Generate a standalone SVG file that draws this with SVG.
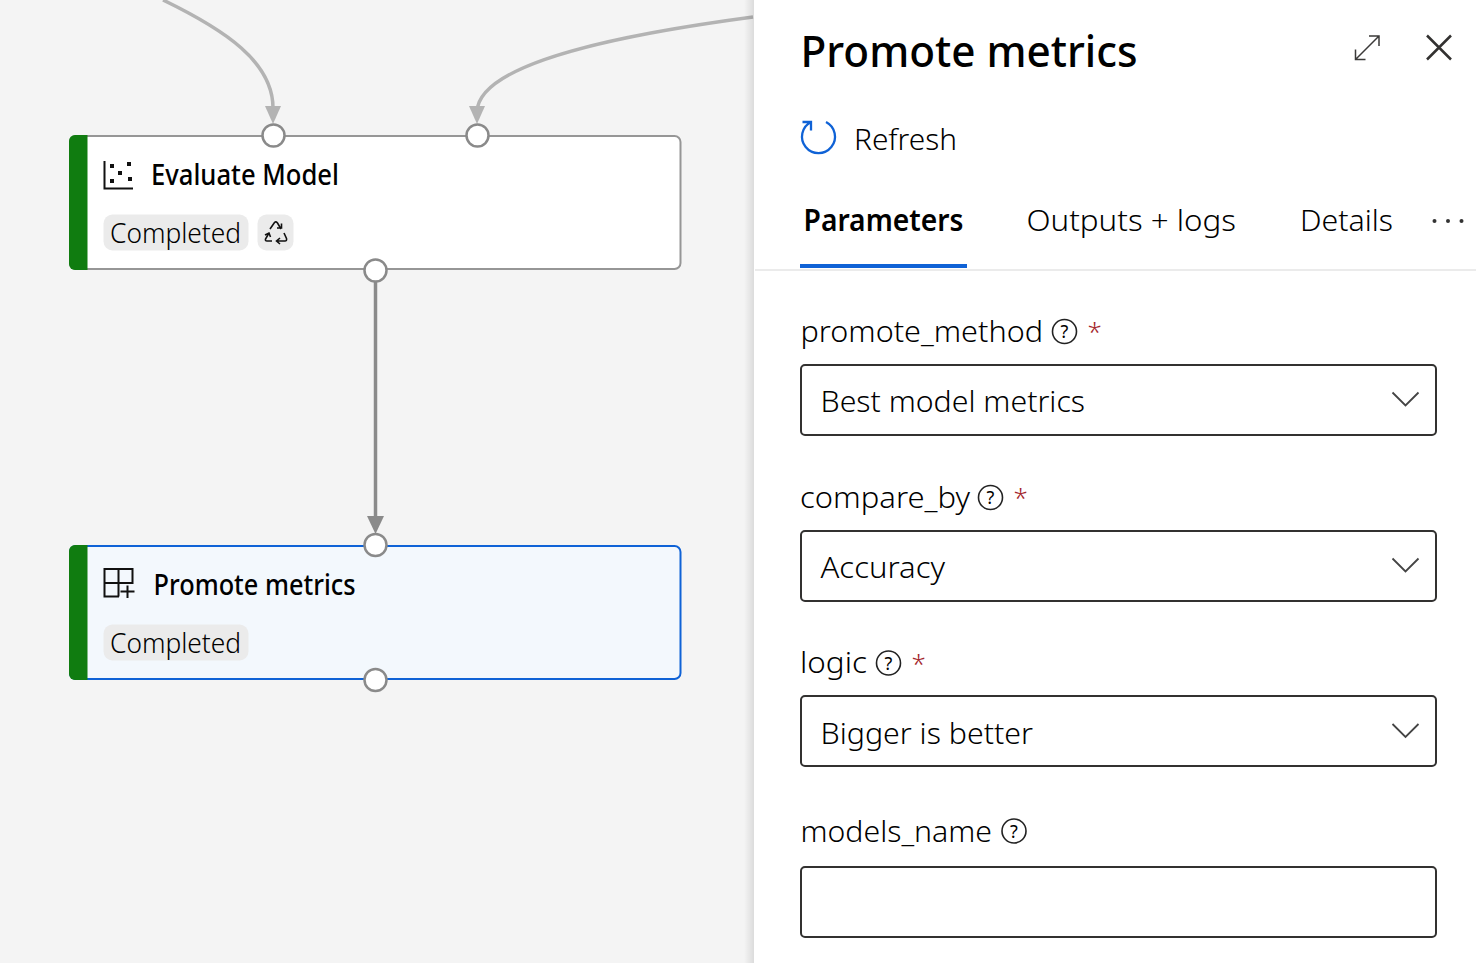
<svg xmlns="http://www.w3.org/2000/svg" width="1476" height="963" viewBox="0 0 1476 963">
<defs>
<linearGradient id="shadow" x1="0" x2="1" y1="0" y2="0"><stop offset="0" stop-color="#000" stop-opacity="0"/><stop offset="1" stop-color="#000" stop-opacity="0.1"/></linearGradient>
</defs>
<style>
text{font-family:"Noto Sans","Open Sans","Liberation Sans",sans-serif;fill:#000}
.t{font-size:30px;font-weight:300}
.h{font-size:30px;font-weight:600}
.n{font-size:28px;font-weight:500}
.s{font-size:28px;font-weight:300;fill:#000}
.port{fill:#fff;stroke:#8a8a8a;stroke-width:2.5}
.box{fill:#fff;stroke:#323130;stroke-width:2}
.chev{fill:none;stroke:#444;stroke-width:1.8}
.help{fill:none;stroke:#222;stroke-width:1.6}
.q{font-size:18px;text-anchor:middle}
.star{font-size:26px;font-weight:300;fill:#a4262c}
.badge{fill:#ebebeb}
.ico{fill:none;stroke:#111;stroke-width:2}
</style>
<rect width="1476" height="963" fill="#f4f4f4"/>
<g id="connectors" fill="none">
<path d="M163 0C225 30 273 62 273 108V112" stroke="#b3b3b3" stroke-width="3.5"/>
<path d="M273 124L265 106H281Z" fill="#b3b3b3"/>
<path d="M753 17C640 32 478 60 477 112" stroke="#b3b3b3" stroke-width="3.5"/>
<path d="M477 124L469 106H485Z" fill="#b3b3b3"/>
<path d="M375.500 282V520" stroke="#8a8a8a" stroke-width="3.5"/>
<path d="M375.500 534L367 516H384Z" fill="#8a8a8a"/>
</g>
<g id="evaluate-model">
<rect x="70" y="136" width="610.500" height="133" rx="6" fill="#fff" stroke="#969696" stroke-width="2"/>
<path d="M87.500 135H75a6 6 0 0 0-6 6V264a6 6 0 0 0 6 6H87.500Z" fill="#107c10"/>
<path class="ico" d="M104.500 161V188.500H133"/>
<path d="M110 164h4v4h-4zM127 162h4v4h-4zM118 171h4v4h-4zM110 179h4v4h-4zM128 177h4v4h-4z" fill="#111"/>
<text class="n" x="151" y="185" textLength="188" lengthAdjust="spacingAndGlyphs">Evaluate Model</text>
<rect class="badge" x="103.500" y="214.500" width="145" height="36" rx="9"/>
<text class="s" x="110" y="243" textLength="131" lengthAdjust="spacingAndGlyphs">Completed</text>
<rect class="badge" x="257.500" y="214.500" width="36" height="36" rx="9"/>
<path d="M270 229L274.500 222.500Q276 221 277.500 223L281 229M277 228H281.500V223.500M269 233L265.500 239Q265 241 267 241H272M265 235L269 233L270.500 237M284 233L286.500 238.500Q287 241 285 241H277M280 238L276.500 241L280 244" fill="none" stroke="#111" stroke-width="1.600"/>
<circle class="port" cx="273.500" cy="135.500" r="11"/>
<circle class="port" cx="477.500" cy="135.500" r="11"/>
<circle class="port" cx="375.500" cy="270.500" r="11"/>
</g>
<g id="promote-metrics">
<rect x="70" y="546" width="610.500" height="133" rx="6" fill="#f3f8fd" stroke="#0f62d6" stroke-width="2"/>
<path d="M87.500 545H75a6 6 0 0 0-6 6V674a6 6 0 0 0 6 6H87.500Z" fill="#107c10"/>
<path class="ico" d="M119 596.500H104.500V569H132.500V584M118.500 569V596.500M104.500 583H132.500M127.500 585.500V598M120.500 591.500H134.500"/>
<text class="n" x="153.500" y="595" textLength="202" lengthAdjust="spacingAndGlyphs">Promote metrics</text>
<rect class="badge" x="103.500" y="624.500" width="145" height="36" rx="9"/>
<text class="s" x="110" y="653" textLength="131" lengthAdjust="spacingAndGlyphs">Completed</text>
<circle class="port" cx="375.500" cy="545" r="11"/>
<circle class="port" cx="375.500" cy="680" r="11"/>
</g>
<g id="panel">
<rect x="744" width="10" height="963" fill="url(#shadow)"/>
<rect x="754" width="722" height="963" fill="#fff"/>
<text x="800.500" y="67" font-size="44" font-weight="500" textLength="337" lengthAdjust="spacingAndGlyphs">Promote metrics</text>
<path d="M1355.500 59.500L1379 36M1369 36H1379V46M1355.500 49.500V59.500H1365.500" fill="none" stroke="#3b3a39" stroke-width="1.500"/>
<path d="M1427 35.500L1451 59.500M1451 35.500L1427 59.500" fill="none" stroke="#323130" stroke-width="2.500"/>
<path d="M811 122A16.500 16.500 0 1 0 826 122M802.500 122H811V130.500" fill="none" stroke="#0f62d6" stroke-width="2.300"/>
<text class="t" x="854" y="149.500" textLength="103" lengthAdjust="spacingAndGlyphs">Refresh</text>
<text class="h" x="803.500" y="231" textLength="160" lengthAdjust="spacingAndGlyphs">Parameters</text>
<text class="t" x="1026.500" y="231" textLength="209.500" lengthAdjust="spacingAndGlyphs">Outputs + logs</text>
<text class="t" x="1300" y="231" textLength="93" lengthAdjust="spacingAndGlyphs">Details</text>
<circle cx="1434.500" cy="221" r="2" fill="#333"/><circle cx="1448" cy="221" r="2" fill="#333"/><circle cx="1461.500" cy="221" r="2" fill="#333"/>
<rect x="755" y="269" width="721" height="2" fill="#ebebeb"/>
<rect x="800" y="264" width="167" height="4" fill="#0f62d6"/>
<text class="t" x="800.500" y="342" textLength="242.500" lengthAdjust="spacingAndGlyphs">promote_method</text>
<circle class="help" cx="1064.500" cy="331.500" r="12"/><text class="q" x="1064.500" y="338">?</text>
<text class="star" x="1087.500" y="341">*</text>
<rect class="box" x="801" y="365" width="635" height="70" rx="4"/>
<text class="t" x="820.500" y="411.500" textLength="264.500" lengthAdjust="spacingAndGlyphs">Best model metrics</text>
<path class="chev" d="M1392.500 392.500L1405.500 405.500L1418.500 392.500"/>
<text class="t" x="800" y="507.500" textLength="170" lengthAdjust="spacingAndGlyphs">compare_by</text>
<circle class="help" cx="990.500" cy="497.500" r="12"/><text class="q" x="990.500" y="504">?</text>
<text class="star" x="1013.500" y="507">*</text>
<rect class="box" x="801" y="531" width="635" height="70" rx="4"/>
<text class="t" x="820.500" y="577.500" textLength="124.500" lengthAdjust="spacingAndGlyphs">Accuracy</text>
<path class="chev" d="M1392.500 558.500L1405.500 571.500L1418.500 558.500"/>
<text class="t" x="800" y="673" textLength="67" lengthAdjust="spacingAndGlyphs">logic</text>
<circle class="help" cx="888.500" cy="663" r="12"/><text class="q" x="888.500" y="669.500">?</text>
<text class="star" x="911.500" y="673">*</text>
<rect class="box" x="801" y="696" width="635" height="70" rx="4"/>
<text class="t" x="820.500" y="743.500" textLength="212.500" lengthAdjust="spacingAndGlyphs">Bigger is better</text>
<path class="chev" d="M1392.500 724L1405.500 737L1418.500 724"/>
<text class="t" x="800.500" y="841.500" textLength="191.500" lengthAdjust="spacingAndGlyphs">models_name</text>
<circle class="help" cx="1014" cy="831" r="12"/><text class="q" x="1014" y="837.500">?</text>
<rect class="box" x="801" y="867" width="635" height="70" rx="4"/>
</g>
</svg>
